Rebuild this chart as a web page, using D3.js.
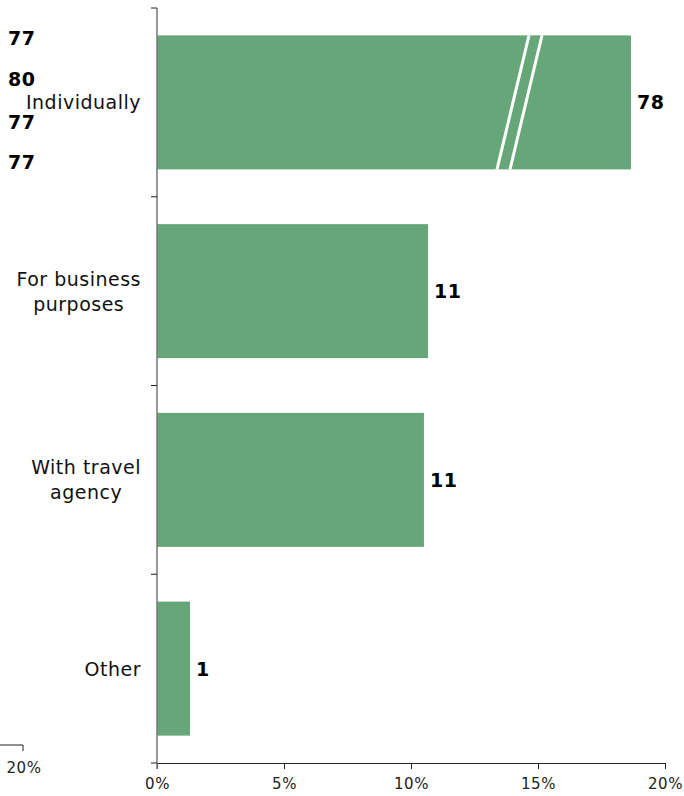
<!DOCTYPE html>
<html><head><meta charset="utf-8">
<script src="https://cdn.jsdelivr.net/npm/d3@7"></script>
<style>body{margin:0;background:#fff}text{font-family:"DejaVu Sans",Verdana,sans-serif}</style>
</head><body><svg id="c" width="684" height="796"></svg>
<script>
const categories = ["Individually", "For business\npurposes", "With travel\nagency", "Other"];
const barValues = [18.66, 10.67, 10.51, 1.3];      // drawn length (axis is broken for first bar)
const labelValues = ["78", "11", "11", "1"];
const xTicks = [0, 5, 10, 15, 20];
const strayLabels = ["77", "80", "77", "77"];

const svg = d3.select("#c");
const x = d3.scaleLinear().domain([0, 20]).range([157, 665]);
const y = d3.scaleBand().domain(categories).range([8, 763]).paddingInner(0.29).paddingOuter(0.145);

const green = "#67a678";

// bars
svg.selectAll("rect.bar").data(categories).join("rect")
  .attr("x", x(0)).attr("y", d => y(d))
  .attr("width", (d, i) => x(barValues[i]) - x(0))
  .attr("height", y.bandwidth()).attr("fill", green);

// break marks on first bar
const b0 = y(categories[0]), b1 = b0 + y.bandwidth();
[[497, 529], [510, 542]].forEach(([xb, xt]) => {
  svg.append("line").attr("x1", xb).attr("y1", b1).attr("x2", xt).attr("y2", b0)
    .attr("stroke", "#fff").attr("stroke-width", 3);
});

// value labels
svg.selectAll("text.val").data(categories).join("text")
  .attr("x", (d, i) => x(barValues[i]) + 6)
  .attr("y", d => y(d) + y.bandwidth() / 2 + 7)
  .attr("font-size", 19).attr("font-weight", "bold").attr("letter-spacing", 0.5).attr("fill", "#000")
  .text((d, i) => labelValues[i]);

// x axis
const xa = svg.append("g").attr("transform", "translate(0,763)")
  .call(d3.axisBottom(x).tickValues(xTicks).tickFormat(d => d + "%").tickSize(6).tickSizeOuter(0));
xa.select(".domain").attr("stroke", "#222");
xa.selectAll(".tick line").attr("stroke", "#222");
xa.selectAll("text").attr("font-size", 15).attr("letter-spacing", 0.5).attr("fill", "#222").attr("dy", "1.15em");

// y axis
const ya = svg.append("g").attr("transform", "translate(157,0)")
  .call(d3.axisLeft(y).tickSize(0).tickFormat(""));
ya.select(".domain").remove();
svg.append("line").attr("x1", 157).attr("x2", 157).attr("y1", 8).attr("y2", 769)
  .attr("stroke", "#777").attr("stroke-width", 1.5);
const bounds = [8, 763];
categories.forEach((c, i) => { if (i > 0) bounds.push(y(c) - y.step() * y.paddingInner() / 2); });
bounds.forEach(v => svg.append("line").attr("x1", 151).attr("x2", 157).attr("y1", v).attr("y2", v).attr("stroke", "#222"));

// category labels (multi-line, centered on each other, right edge at 140)
categories.forEach(c => {
  const lines = c.split("\n");
  const cy = y(c) + y.bandwidth() / 2;
  const t = svg.append("text").attr("text-anchor", "middle").attr("font-size", 19)
    .attr("letter-spacing", 0.5).attr("fill", "#111");
  const spans = lines.map((l, j) =>
    t.append("tspan").attr("y", cy + 7 + (j - (lines.length - 1) / 2) * 25).text(l));
  const maxW = d3.max(spans, s => s.node().getComputedTextLength());
  spans.forEach(s => s.attr("x", 141 - maxW / 2));
});

// stray overlapping labels at top left
strayLabels.forEach((s, i) => {
  svg.append("text").attr("x", 8).attr("y", [45, 86, 129, 169][i])
    .attr("font-size", 19).attr("font-weight", "bold").attr("letter-spacing", 0.5).attr("fill", "#000").text(s);
});

// stray axis fragment bottom-left
svg.append("line").attr("x1", 0).attr("x2", 23).attr("y1", 745).attr("y2", 745).attr("stroke", "#222");
svg.append("line").attr("x1", 23).attr("x2", 23).attr("y1", 745).attr("y2", 751).attr("stroke", "#222");
svg.append("text").attr("x", 24).attr("y", 773).attr("text-anchor", "middle").attr("font-size", 15)
  .attr("letter-spacing", 0.5).attr("fill", "#222").text(xTicks[4] + "%");
</script></body></html>
